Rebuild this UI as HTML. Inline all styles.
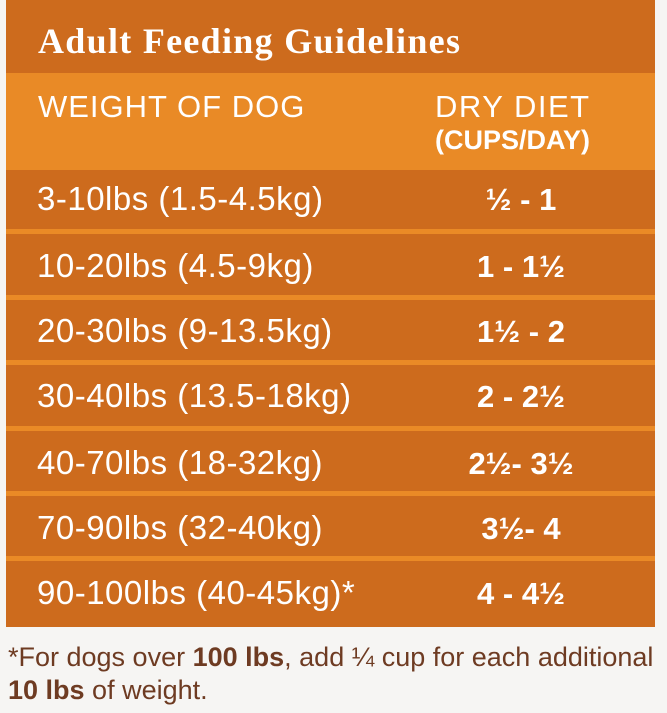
<!DOCTYPE html>
<html><head><style>
body{margin:0;width:667px;height:713px;background:#f6f5f3;position:relative;overflow:hidden;font-family:"Liberation Sans",sans-serif;}
.panel{position:absolute;left:6px;top:0;width:649px;height:627px;background:#cd6b1d;}
.title{position:absolute;left:32px;top:20px;font-family:"Liberation Serif",serif;font-weight:bold;font-size:36px;color:#fff;letter-spacing:1.3px}
.hdr{position:absolute;left:0;top:73px;width:649px;height:97px;background:#e98a26;}
.t{position:absolute;color:#fff;white-space:nowrap}
.sep{position:absolute;left:0;width:649px;height:5px;background:#ea8a26;}
.l{left:31px;font-size:33px;letter-spacing:0.5px}
.r{left:390px;width:250px;text-align:center;font-size:31px;font-weight:bold}
.foot{position:absolute;left:8px;font-size:27px;color:#6e3b22;white-space:nowrap}
</style></head><body>
<div class="panel">
<div class="title">Adult Feeding Guidelines</div>
<div class="hdr">
<div class="t" style="left:32px;top:16px;font-size:31px;letter-spacing:1px">WEIGHT OF DOG</div>
<div class="t" style="left:429px;top:16px;font-size:31px;letter-spacing:1.5px">DRY DIET</div>
<div class="t" style="left:429px;top:52px;font-size:27px;font-weight:bold">(CUPS/DAY)</div>
</div>
<div class="sep" style="top:229px"></div>
<div class="sep" style="top:295px"></div>
<div class="sep" style="top:360px"></div>
<div class="sep" style="top:426px"></div>
<div class="sep" style="top:491px"></div>
<div class="sep" style="top:556px"></div>
<div class="t l" style="top:180px">3-10lbs (1.5-4.5kg)</div>
<div class="t r" style="top:182px">½ - 1</div>
<div class="t l" style="top:247px">10-20lbs (4.5-9kg)</div>
<div class="t r" style="top:249px">1 - 1½</div>
<div class="t l" style="top:312px">20-30lbs (9-13.5kg)</div>
<div class="t r" style="top:314px">1½ - 2</div>
<div class="t l" style="top:377px">30-40lbs (13.5-18kg)</div>
<div class="t r" style="top:379px">2 - 2½</div>
<div class="t l" style="top:444px">40-70lbs (18-32kg)</div>
<div class="t r" style="top:446px">2½- 3½</div>
<div class="t l" style="top:509px">70-90lbs (32-40kg)</div>
<div class="t r" style="top:511px">3½- 4</div>
<div class="t l" style="top:574px">90-100lbs (40-45kg)*</div>
<div class="t r" style="top:576px">4 - 4½</div>
</div>
<div class="foot" style="top:642px">*For dogs over <b>100 lbs</b>, add ¼ cup for each additional</div>
<div class="foot" style="top:675px"><b>10 lbs</b> of weight.</div>
</body></html>
